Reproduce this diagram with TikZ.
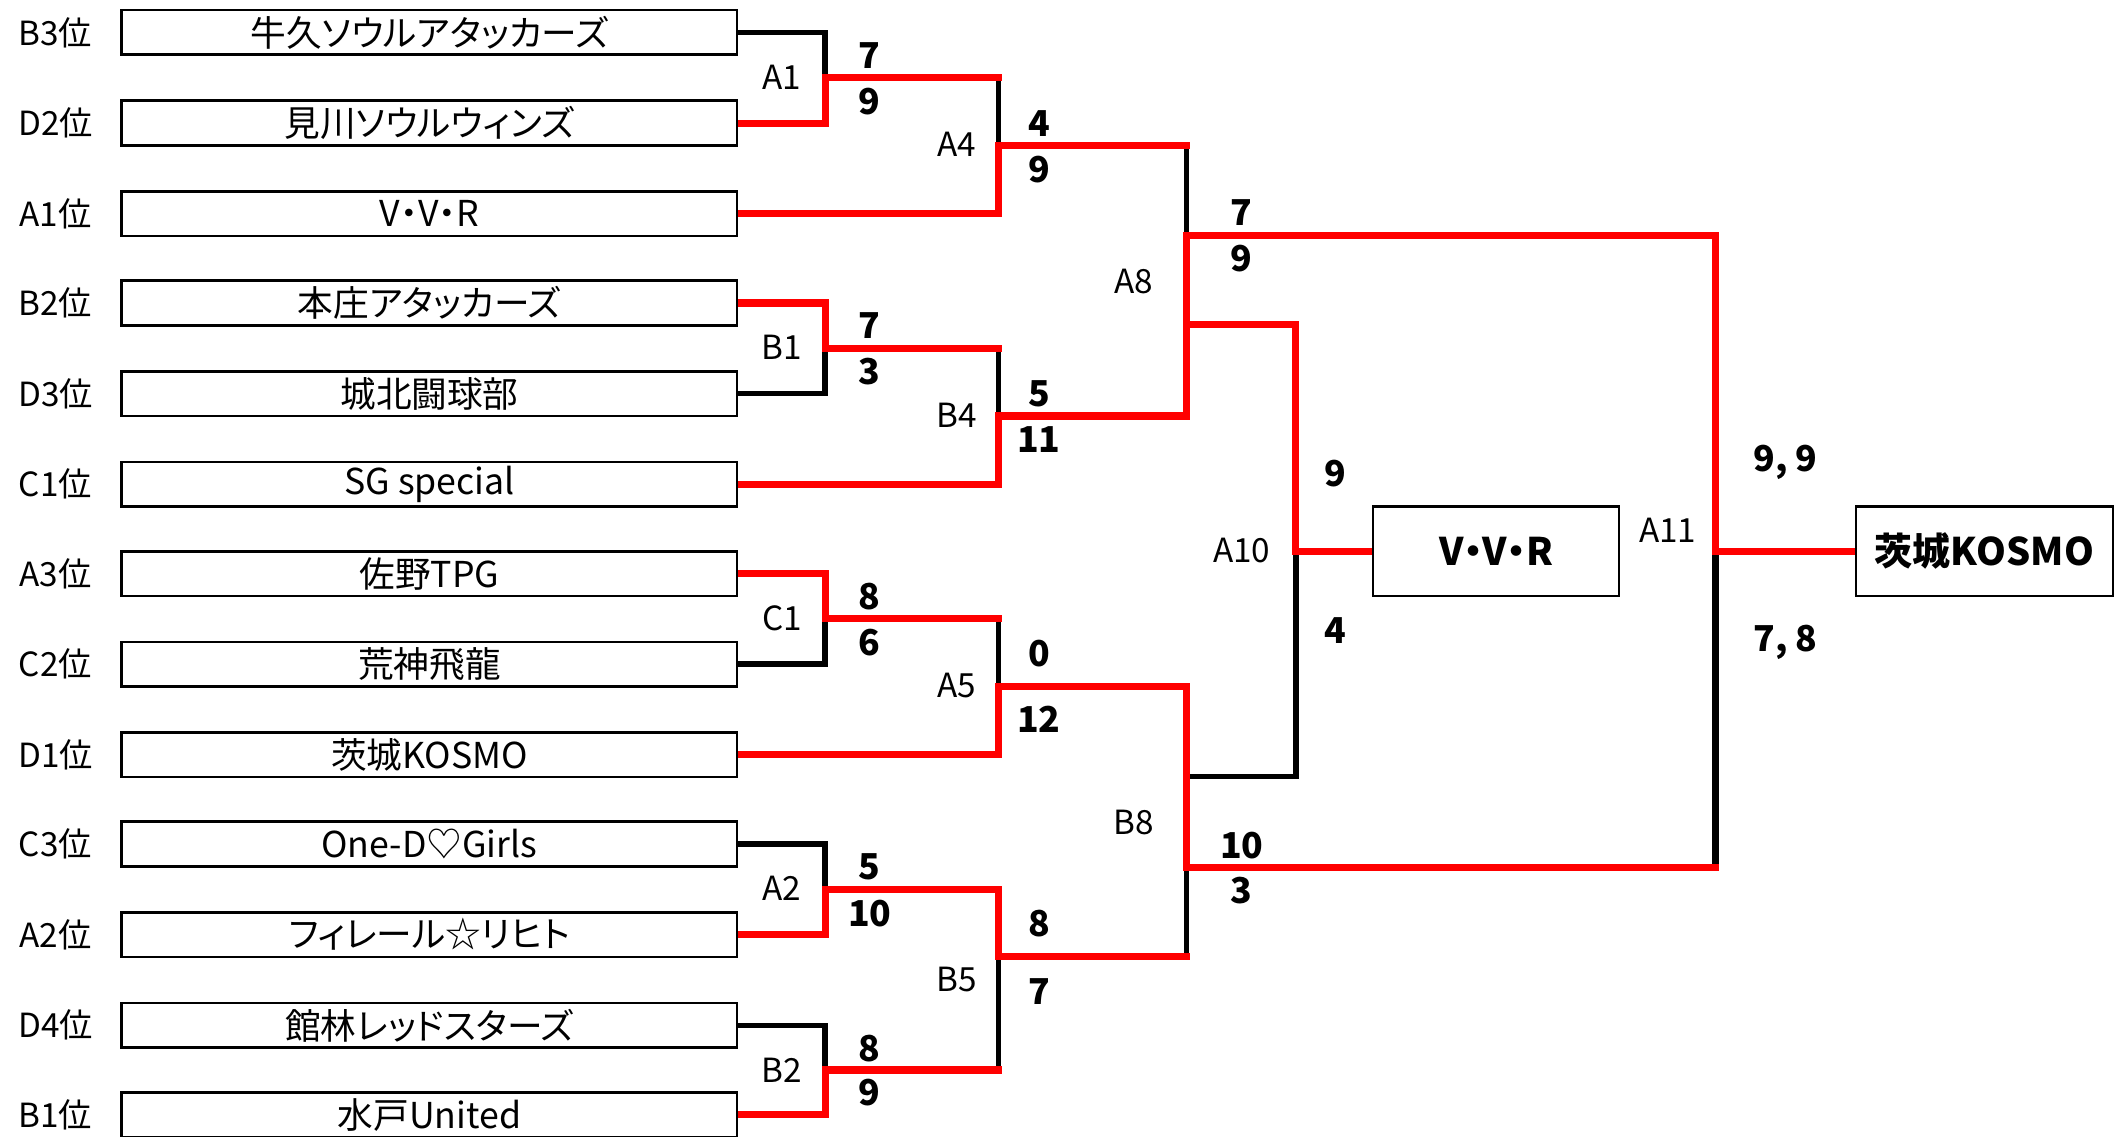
\documentclass[tikz,border=0pt]{standalone}
\usepackage{fontspec}
\setmainfont{Noto Sans CJK JP}[RawFeature=+palt]
\usetikzlibrary{backgrounds}

\begin{document}
\begin{tikzpicture}[x=0.02cm,y=-0.02cm,
  teambox/.style={draw,line width=1.1pt,fill=white,minimum width=9.1cm,minimum height=0.66cm,inner sep=0pt,font=\fontsize{15}{15}\selectfont},
  ranklbl/.style={font=\fontsize{14}{14}\selectfont},
  gamelbl/.style={font=\fontsize{14}{14}\selectfont},
  pts/.style={font=\fontsize{15}{15}\selectfont\bfseries},
  endbox/.style={draw,line width=1.1pt,fill=white,minimum height=1.32cm,inner sep=0pt,font=\fontsize{16}{16}\selectfont\bfseries},
  win/.style={red,line width=3pt,line cap=rect},
  lose/.style={black,line width=2.3pt,line cap=rect}]
\useasboundingbox (0,0) rectangle (1568,840);
% teams
\node[teambox] (t1) at (317.5,24) {牛久ソウルアタッカーズ};
\node[teambox] (t2) at (317.5,91) {見川ソウルウィンズ};
\node[teambox] (t3) at (317.5,158) {V・V・R};
\node[teambox] (t4) at (317.5,224) {本庄アタッカーズ};
\node[teambox] (t5) at (317.5,291) {城北闘球部};
\node[teambox] (t6) at (317.5,358) {SG special};
\node[teambox] (t7) at (317.5,424) {佐野TPG};
\node[teambox] (t8) at (317.5,491) {荒神飛龍};
\node[teambox] (t9) at (317.5,558) {茨城KOSMO};
\node[teambox] (t10) at (317.5,624) {One-D♡Girls};
\node[teambox] (t11) at (317.5,691) {フィレール☆リヒト};
\node[teambox] (t12) at (317.5,758) {館林レッドスターズ};
\node[teambox] (t13) at (317.5,824) {水戸United};
\node[ranklbl] (r1) at (41,24) {B3位};
\node[ranklbl] (r2) at (41,91) {D2位};
\node[ranklbl] (r3) at (41,158) {A1位};
\node[ranklbl] (r4) at (41,224) {B2位};
\node[ranklbl] (r5) at (41,291) {D3位};
\node[ranklbl] (r6) at (41,358) {C1位};
\node[ranklbl] (r7) at (41,424) {A3位};
\node[ranklbl] (r8) at (41,491) {C2位};
\node[ranklbl] (r9) at (41,558) {D1位};
\node[ranklbl] (r10) at (41,624) {C3位};
\node[ranklbl] (r11) at (41,691) {A2位};
\node[ranklbl] (r12) at (41,758) {D4位};
\node[ranklbl] (r13) at (41,824) {B1位};
\node[endbox,minimum width=3.64cm] (vvr) at (1106,407.5) {V・V・R};
\node[endbox,minimum width=3.8cm] (champ) at (1467,407.5) {茨城KOSMO};
% junctions
\coordinate (a1) at (610,57.5);
\coordinate (b1) at (610,257.5);
\coordinate (c1) at (610,457.5);
\coordinate (a2) at (610,657.5);
\coordinate (b2) at (610,791);
\coordinate (a4) at (738,107.5);
\coordinate (b4) at (738,307.5);
\coordinate (a5) at (738,507.5);
\coordinate (b5) at (738,707);
\coordinate (a8) at (877,174);
\coordinate (a8b) at (877,240);
\coordinate (b8) at (877,641);
\coordinate (b8b) at (877,574);
\coordinate (a10) at (958,407.5);
\coordinate (a11) at (1268,407.5);
% game labels
\node[gamelbl] (gA1) at (578,57) {A1};
\node[gamelbl] (gB1) at (578,257) {B1};
\node[gamelbl] (gC1) at (578,457) {C1};
\node[gamelbl] (gA2) at (578,657) {A2};
\node[gamelbl] (gB2) at (578,791) {B2};
\node[gamelbl] (gA4) at (707,107) {A4};
\node[gamelbl] (gB4) at (707,307) {B4};
\node[gamelbl] (gA5) at (707,507) {A5};
\node[gamelbl] (gB5) at (707,724) {B5};
\node[gamelbl] (gA8) at (838,208) {A8};
\node[gamelbl] (gB8) at (838,608) {B8};
\node[gamelbl] (gA10) at (918,407) {A10};
\node[gamelbl] (gA11) at (1233,392) {A11};
% scores
\node[pts] (pA1a) at (643,41) {7};
\node[pts] (pA1b) at (643,75) {9};
\node[pts] (pB1a) at (643,241) {7};
\node[pts] (pB1b) at (643,275) {3};
\node[pts] (pC1a) at (643,441) {8};
\node[pts] (pC1b) at (643,475) {6};
\node[pts] (pA2a) at (643,641) {5};
\node[pts] (pA2b) at (643,675) {10};
\node[pts] (pB2a) at (643,775) {8};
\node[pts] (pB2b) at (643,808) {9};
\node[pts] (pA4a) at (768,91) {4};
\node[pts] (pA4b) at (768,125) {9};
\node[pts] (pB4a) at (768,291) {5};
\node[pts] (pB4b) at (768,325) {11};
\node[pts] (pA5a) at (768,483) {0};
\node[pts] (pA5b) at (768,532) {12};
\node[pts] (pB5a) at (768,683) {8};
\node[pts] (pB5b) at (768,733) {7};
\node[pts] (pA8a) at (918,157) {7};
\node[pts] (pA8b) at (918,191) {9};
\node[pts] (pB8a) at (918,625) {10};
\node[pts] (pB8b) at (918,658) {3};
\node[pts] (pA10a) at (987,350) {9};
\node[pts] (pA10b) at (987,466) {4};
\node[pts] (pA11a) at (1320,342) {9, 9};
\node[pts] (pA11b) at (1320,475) {7, 8};
% bracket lines
\begin{pgfonlayer}{background}
\draw[lose] (t1.east) -| (a1);
\draw[lose] (a1 -| a4) -- (a4);
\draw[lose] (a4 -| a8) -- (a8);
\draw[lose] (t5.east) -| (b1);
\draw[lose] (b1 -| b4) -- (b4);
\draw[lose] (t8.east) -| (c1);
\draw[lose] (c1 -| a5) -- (a5);
\draw[lose] (t10.east) -| (a2);
\draw[lose] (t12.east) -| (b2);
\draw[lose] (b2 -| b5) -- (b5);
\draw[lose] (b5 -| b8) -- (b8);
\draw[lose] (b8b) -| (a10);
\draw[lose, line width=2.8pt] (b8 -| a11) -- (a11);
\draw[win] (t2.east) -| (a1);
\draw[win] (a1) -- (a1 -| a4);
\draw[win] (t3.east) -| (a4);
\draw[win] (a4) -- (a4 -| a8);
\draw[win] (t4.east) -| (b1);
\draw[win] (b1) -- (b1 -| b4);
\draw[win] (t6.east) -| (b4);
\draw[win] (b4) -| (a8);
\draw[win] (a8b) -| (a10);
\draw[win] (a10) -- (vvr.west);
\draw[win] (a8) -| (a11);
\draw[win] (t7.east) -| (c1);
\draw[win] (c1) -- (c1 -| a5);
\draw[win] (t9.east) -| (a5);
\draw[win] (a5) -| (b8);
\draw[win] (t11.east) -| (a2);
\draw[win] (a2) -| (b5);
\draw[win] (t13.east) -| (b2);
\draw[win] (b2) -- (b2 -| b5);
\draw[win] (b5) -- (b5 -| b8);
\draw[win] (b8) -- (b8 -| a11);
\draw[win] (a11) -- (champ.west);
\end{pgfonlayer}
\end{tikzpicture}
\end{document}
